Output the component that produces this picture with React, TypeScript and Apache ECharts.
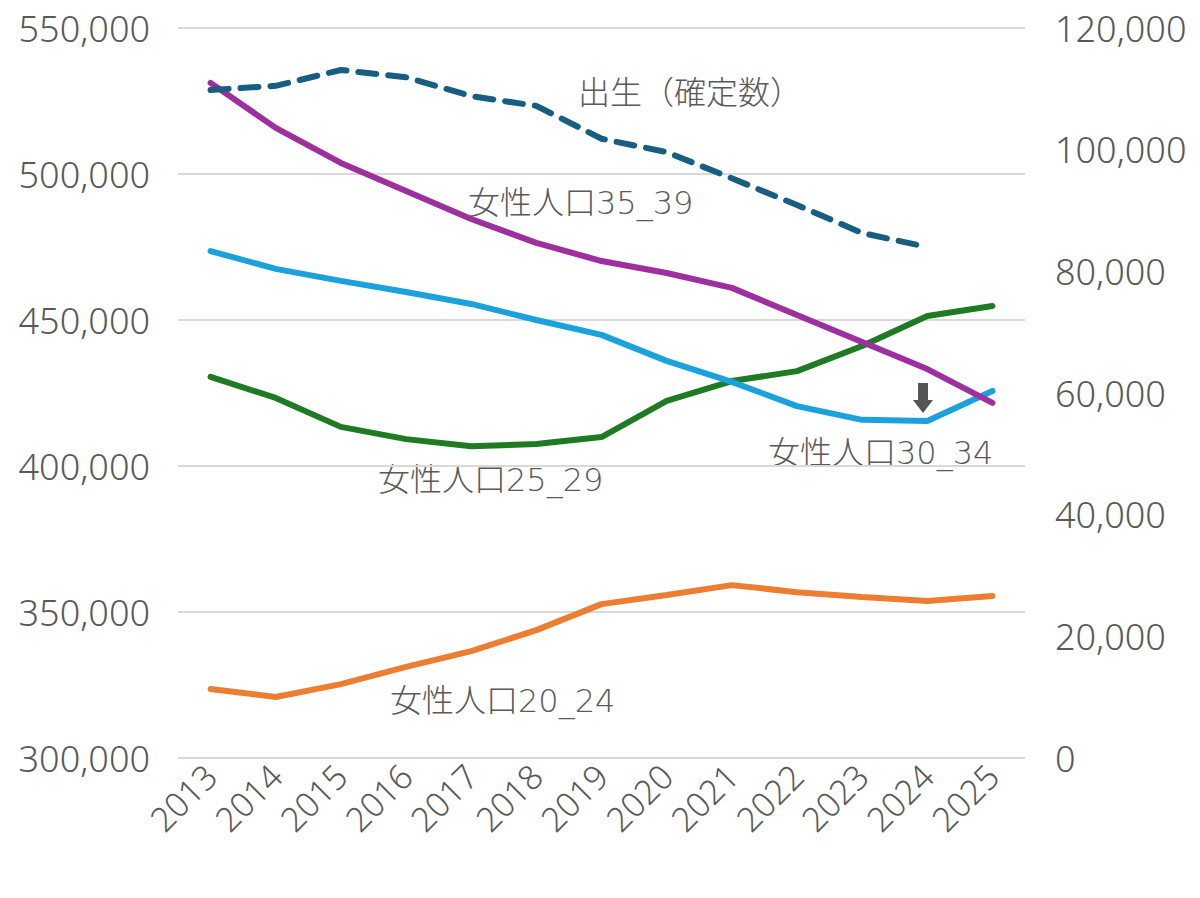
import React, { useEffect, useRef } from "react";
import * as echarts from "echarts";

const years = ["2013", "2014", "2015", "2016", "2017", "2018", "2019", "2020", "2021", "2022", "2023", "2024", "2025"];
const women20_24 = [323600, 320900, 325300, 331200, 336600, 343800, 352700, 355800, 359200, 356800, 355100, 353800, 355500];
const women25_29 = [430500, 423300, 413400, 409200, 406800, 407500, 409900, 422300, 429100, 432500, 441100, 451400, 454800];
const women30_34 = [473600, 467500, 463400, 459600, 455500, 450000, 444900, 436000, 428800, 420500, 415800, 415400, 425700];
const women35_39 = [531200, 515800, 503800, 494200, 484600, 476400, 470200, 466100, 461000, 451700, 442500, 433200, 421600];
const births = [109800, 110500, 113100, 111900, 108800, 107200, 101800, 99600, 95300, 90900, 86300, 84000, null];

const labelFont = "'Noto Sans', 'Noto Sans CJK JP', sans-serif";
const cjkFont = "'DejaVu Sans', 'Noto Sans CJK JP', sans-serif";
const textColor = "#595959";

export default function App() {
  const ref = useRef<HTMLDivElement>(null);
  useEffect(() => {
    if (!ref.current) return;
    const chart = echarts.init(ref.current, undefined, { renderer: "svg" });
    const fmt = (v: number) => v.toLocaleString("en-US");
    const line = (name: string, data: any[], color: string, yAxisIndex = 0, dashed = false) => ({
      name,
      type: "line",
      data,
      yAxisIndex,
      symbol: "none",
      smooth: false,
      lineStyle: { color, width: 6, type: dashed ? [18, 12] : "solid", cap: "round" },
      z: 3,
    });
    const label = (text: string, left: number, top: number) => ({
      type: "text",
      left,
      top,
      style: { text, fontSize: 32, fill: textColor, fontFamily: cjkFont, fontWeight: 300 },
    });
    chart.setOption({
      animation: false,
      backgroundColor: "#ffffff",
      grid: { left: 178, right: 175, top: 28, bottom: 140, containLabel: false },
      xAxis: {
        type: "category",
        data: years,
        boundaryGap: true,
        axisLine: { show: false },
        axisTick: { show: false },
        axisLabel: {
          rotate: 45,
          fontSize: 34,
          color: textColor,
          fontFamily: labelFont,
          fontWeight: 300,
          margin: 12,
          interval: 0,
        },
      },
      yAxis: [
        {
          type: "value",
          min: 300000,
          max: 550000,
          interval: 50000,
          axisLine: { show: false },
          axisTick: { show: false },
          splitLine: { show: true, lineStyle: { color: "#d9d9d9", width: 2 } },
          axisLabel: { fontSize: 36, color: textColor, fontFamily: labelFont, fontWeight: 300, margin: 28, formatter: fmt },
        },
        {
          type: "value",
          min: 0,
          max: 120000,
          interval: 20000,
          position: "right",
          axisLine: { show: false },
          axisTick: { show: false },
          splitLine: { show: false },
          axisLabel: { fontSize: 36, color: textColor, fontFamily: labelFont, fontWeight: 300, margin: 30, formatter: fmt },
        },
      ],
      series: [
        line("女性人口20_24", women20_24, "#ed7d31"),
        line("女性人口25_29", women25_29, "#1e7a23"),
        line("女性人口30_34", women30_34, "#1ba1db"),
        line("女性人口35_39", women35_39, "#9e2f9e"),
        line("出生（確定数）", births, "#175e80", 1, true),
      ],
      graphic: [
        label("出生（確定数）", 578, 77),
        label("女性人口35_39", 468, 187),
        label("女性人口30_34", 768, 437),
        label("女性人口25_29", 378, 464),
        label("女性人口20_24", 390, 685),
        {
          type: "polygon",
          shape: {
            points: [
              [918, 383],
              [928, 383],
              [928, 400],
              [933, 400],
              [923, 413],
              [913, 400],
              [918, 400],
            ],
          },
          style: { fill: "#555555" },
          z: 10,
        },
      ],
    });
    return () => chart.dispose();
  }, []);
  return <div ref={ref} style={{ position: "fixed", left: 0, top: 0, width: 1200, height: 898 }} />;
}
